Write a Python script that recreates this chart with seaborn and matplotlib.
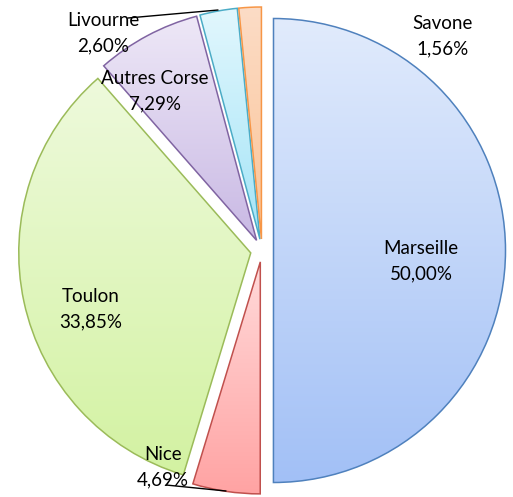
import numpy as np
import matplotlib
matplotlib.use("Agg")
import matplotlib.pyplot as plt
from matplotlib.colors import LinearSegmentedColormap
import seaborn as sns

# --- data -------------------------------------------------------------
ports  = ["Marseille", "Nice", "Toulon", "Autres Corse", "Livourne", "Savone"]
shares = [50.00, 4.69, 33.85, 7.29, 2.60, 1.56]
share_labels = ["50,00%", "4,69%", "33,85%", "7,29%", "2,60%", "1,56%"]

# top / bottom gradient colours and outline per slice
top_colors  = ["#e1ebfc", "#ffdada", "#eefadc", "#eee8f7", "#e2f7fd", "#fcdcc6"]
bot_colors  = ["#a2c0f6", "#ffa3a3", "#d3f2a2", "#c9b9e4", "#a3e4f7", "#fbc496"]
edge_colors = ["#4f81bd", "#c0504d", "#9bbb59", "#8064a2", "#4bacc6", "#f79646"]

# label centres (pixels from top-left)
label_pos = {
    "Marseille":    (421, 261),
    "Nice":         (163, 467),
    "Toulon":       (91, 309),
    "Autres Corse": (155, 91),
    "Livourne":     (103, 33),
    "Savone":       (443, 36),
}
leaders = {
    "Nice":     [(166, 485), (226, 491)],
    "Livourne": [(128, 18), (218, 10)],
}

W, H = 513, 497
RADIUS = 232
EXPLODE = 11.5   # pie offsets are in data units (= pixels here)

sns.set_theme(style="white")
plt.rcParams["font.family"] = ["Lato", "DejaVu Sans"]

fig = plt.figure(figsize=(W / 100, H / 100), dpi=100)
fig.patch.set_facecolor("white")
ax = fig.add_axes([0, 0, 1, 1])

wedges, _ = ax.pie(
    shares,
    startangle=90,
    counterclock=False,
    center=(262, H - 250.5),
    radius=RADIUS,
    explode=[EXPLODE] * len(shares),
    wedgeprops=dict(facecolor="none", linewidth=1.1),
)

grad = np.linspace(0, 1, 256).reshape(-1, 1)
for w, c_top, c_bot, c_edge in zip(wedges, top_colors, bot_colors, edge_colors):
    w.set_edgecolor(c_edge)
    w.set_zorder(3)
    bb = w.get_path().get_extents()
    cmap = LinearSegmentedColormap.from_list("g", [c_bot, c_top])
    im = ax.imshow(grad, cmap=cmap, extent=(bb.x0, bb.x1, bb.y0, bb.y1),
                   origin="lower", aspect="auto", interpolation="bilinear", zorder=2)
    im.set_clip_path(w)

for name, lab in zip(ports, share_labels):
    x, y = label_pos[name]
    ax.text(x, H - y + 12.5, name, ha="center", va="center", fontsize=13.5, color="black", zorder=5)
    ax.text(x, H - y - 12.5, lab, ha="center", va="center", fontsize=13.5, color="black", zorder=5)

for name, pts in leaders.items():
    xs = [p[0] for p in pts]
    ys = [H - p[1] for p in pts]
    ax.plot(xs, ys, color="black", linewidth=1.0, zorder=4)

ax.set_xlim(0, W)
ax.set_ylim(0, H)
ax.set_aspect("equal")
ax.axis("off")

plt.savefig("out.png", dpi=100)
plt.close()
